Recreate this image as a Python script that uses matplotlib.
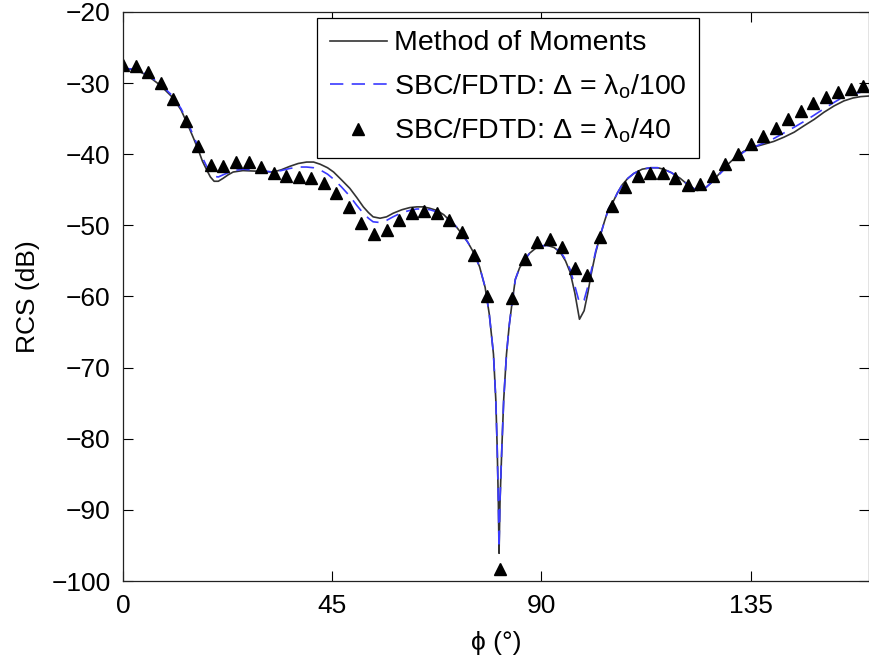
import numpy as np
import matplotlib.pyplot as plt

plt.rcParams['font.family'] = ['Liberation Sans', 'DejaVu Sans']
plt.rcParams['mathtext.fontset'] = 'custom'
plt.rcParams['mathtext.rm'] = 'Liberation Sans'

# Method of Moments curve (angle in degrees, RCS in dB)
mom_phi = [0, 3, 5.4, 8, 10.8, 12.5, 14.1, 15.2, 16.2, 17.1, 18.0, 18.8, 19.6, 20.5,
           21.5, 22.6, 23.7, 25.8, 29.4, 32.3, 34.0, 35.9, 37.7, 39.5, 41.0, 42.4,
           44.0, 45.3, 47.0, 48.8, 50.3, 51.7, 52.8, 53.8, 55.3, 56.7, 58.1, 60.0,
           61.7, 63.2, 64.6, 66.0, 67.5, 69.0, 70.4, 71.7, 72.9, 74.2, 75.4, 76.7,
           77.9, 78.8, 79.7, 80.2, 80.5, 80.75, 80.9, 81.1, 81.5, 81.9, 82.5, 83.1,
           83.7, 84.4, 85.3, 86.2, 87.5, 89.0, 90.0, 91.2, 92.7, 94.1, 95.2, 96.2,
           97.2, 98.2, 99.2, 100.0, 100.8, 101.7, 102.6, 103.6, 104.5, 105.5, 106.4,
           107.4, 108.6, 109.9, 111.7, 113.5, 115.0, 116.3, 118.0, 119.9, 121.7,
           123.5, 125.0, 126.4, 128.2, 130.0, 131.8, 133.5, 135.7, 137.9, 140.0,
           142.2, 144.4, 146.5, 148.7, 150.8, 153.0, 155.1, 157.0, 158.7, 160.8]
mom_rcs = [-27.9, -28.2, -29.0, -30.3, -32.1, -33.8, -36.1, -37.8, -39.4, -41.0, -42.2,
           -43.2, -43.8, -43.8, -43.4, -42.9, -42.5, -42.3, -42.4, -42.5, -42.2, -41.7,
           -41.3, -41.1, -41.1, -41.4, -41.9, -42.5, -43.6, -44.8, -46.1, -47.4, -48.2,
           -48.8, -49.0, -48.8, -48.3, -47.8, -47.5, -47.4, -47.4, -47.6, -47.9, -48.5,
           -49.4, -50.2, -51.2, -52.4, -53.8, -55.8, -58.7, -62.5, -68.1, -74.5, -81.3,
           -89.0, -96.1, -89.0, -81.3, -74.5, -68.1, -64.0, -60.9, -57.6, -56.0, -55.0,
           -53.9, -53.1, -52.9, -52.8, -53.1, -53.8, -55.0, -56.6, -59.5, -63.2, -62.0,
           -59.5, -56.6, -53.8, -51.6, -49.4, -47.6, -46.6, -45.4, -44.3, -43.4, -42.7,
           -42.1, -41.9, -41.9, -42.1, -42.6, -43.4, -44.4, -45.1, -44.9, -44.1, -42.8,
           -41.5, -40.4, -39.6, -39.0, -38.6, -38.2, -37.6, -36.9, -36.0, -35.1, -34.1,
           -33.2, -32.5, -32.1, -31.9, -31.8]

# SBC/FDTD, cell size lambda/100
fd100_phi = mom_phi
fd100_rcs = [-27.9, -28.1, -28.9, -30.1, -31.9, -33.6, -35.8, -37.5, -39.0, -40.5, -41.7,
             -42.6, -43.1, -43.2, -42.9, -42.6, -42.3, -42.1, -42.3, -42.5, -42.3, -42.0,
             -41.8, -41.8, -41.9, -42.2, -42.8, -43.5, -44.6, -45.9, -47.2, -48.3, -49.0,
             -49.5, -49.6, -49.3, -48.8, -48.2, -47.9, -47.7, -47.7, -47.8, -48.1, -48.6,
             -49.4, -50.2, -51.2, -52.4, -53.8, -55.8, -58.7, -62.5, -68.1, -74.5, -81.3,
             -88.8, -95.4, -88.8, -81.3, -74.5, -68.1, -64.0, -60.9, -57.6, -56.0, -55.0,
             -53.9, -53.1, -52.9, -52.8, -53.1, -53.7, -54.8, -56.2, -58.5, -60.9, -60.5,
             -58.6, -56.2, -53.6, -51.6, -49.4, -47.6, -46.6, -45.4, -44.3, -43.4, -42.7,
             -42.1, -41.9, -41.9, -42.1, -42.6, -43.4, -44.4, -45.1, -44.9, -44.1, -42.9,
             -41.7, -40.6, -39.7, -39.0, -38.4, -37.8, -37.0, -36.2, -35.4, -34.5, -33.6,
             -32.7, -31.9, -31.5, -31.3, -31.1]

# SBC/FDTD, cell size lambda/40 (sampled every 2.7 degrees)
fd40_phi = np.arange(60) * 2.7
fd40_rcs = [-27.4, -27.6, -28.4, -30.0, -32.3, -35.3, -38.8, -41.5, -41.7, -41.1,
            -41.1, -41.8, -42.6, -43.0, -43.2, -43.4, -44.1, -45.4, -47.4, -49.7,
            -51.2, -50.6, -49.3, -48.3, -48.0, -48.3, -49.3, -51.0, -54.1, -59.9,
            -98.3, -60.2, -54.7, -52.3, -51.9, -53.0, -56.0, -57.0, -51.6, -47.3,
            -44.6, -43.1, -42.6, -42.7, -43.4, -44.3, -44.2, -43.0, -41.4, -39.9,
            -38.6, -37.5, -36.3, -35.1, -33.9, -32.8, -32.0, -31.3, -30.8, -30.4]

fig = plt.figure(figsize=(8.7, 6.65), dpi=100)
ax = fig.add_axes([0.1414, 0.1263, 0.8575, 0.8557])

ax.plot(mom_phi, mom_rcs, color='#333333', lw=1.2, label='Method of Moments')
ax.plot(fd100_phi, fd100_rcs, color='#3a3aff', lw=1.2, dashes=(8, 5),
        label=r'SBC/FDTD: Δ = λ$_\mathregular{o}$/100')
ax.plot(fd40_phi, fd40_rcs, ls='none', marker='^', ms=8, color='black',
        label=r'SBC/FDTD: Δ = λ$_\mathregular{o}$/40')

ax.set_xlim(0, 160.5)
ax.set_ylim(-100, -20)
ax.set_xticks([0, 45, 90, 135])
ax.set_yticks(np.arange(-100, -19, 10))
ax.tick_params(direction='in', length=7, width=0.8, top=True, right=True,
               labelsize=19, pad=9)
for s in ax.spines.values():
    s.set_linewidth(0.9)
    s.set_color('#222222')

ax.set_xlabel('ϕ (°)', fontsize=19, labelpad=10)
ax.set_ylabel('RCS (dB)', fontsize=19, labelpad=8)

leg = ax.legend(loc='upper left', bbox_to_anchor=(0.26, 0.99), borderaxespad=0,
                fontsize=20.5, fancybox=False, framealpha=1, edgecolor='black',
                numpoints=1, handlelength=2.0, handletextpad=0.25,
                labelspacing=0.55, borderpad=0.45)
leg.get_frame().set_linewidth(0.9)

fig.savefig('out.png', dpi=100)
